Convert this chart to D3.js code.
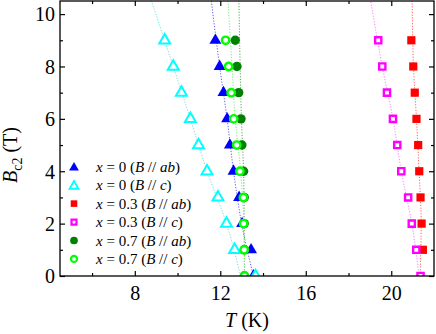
<!DOCTYPE html>
<html>
<head>
<meta charset="utf-8">
<script src="https://cdn.jsdelivr.net/npm/d3@7"></script>
<style>
    body { margin: 0; background: #fff; }
    svg text { font-family: 'Times New Roman', 'Liberation Serif', Times, serif; fill: #000; }
</style>
</head>
<body>
<div id="chart"></div>
<script>
// field levels (T) for the measured points
let bLevels = [9, 8, 7, 6, 5, 4, 3, 2, 1, 0];

// Tc (K) at each field
let x0ab = [11.77, 11.97, 12.15, 12.32, 12.45, 12.62, 12.88, 13.02, 13.44, 13.55];
let x0c = [9.40, 9.80, 10.18, 10.60, 10.98, 11.38, 11.89, 12.29, 12.67, 13.65];
let x03ab = [20.94, 21.03, 21.10, 21.18, 21.26, 21.31, 21.37, 21.42, 21.48];
let x03c = [19.39, 19.58, 19.80, 20.08, 20.28, 20.47, 20.79, 20.96, 21.17, 21.37];
let x07ab = [12.70, 12.78, 12.86, 12.97, 13.01, 13.09, 13.12, 13.12, 13.13, 13.13];
let x07c = [12.25, 12.39, 12.51, 12.63, 12.77, 12.92, 13.08, 13.09, 13.12, 13.13];

// dotted fit curves: T at these fields
let fitB = [0, 2, 4, 6, 8, 10.5];
let fit0ab = [13.55, 13.00, 12.62, 12.32, 11.97, 11.58];
let fit0c = [12.95, 12.29, 11.38, 10.60, 9.80, 8.78];
let fit03ab = [21.35, 21.40, 21.30, 21.18, 21.04, 20.98];
let fit03c = [21.30, 20.96, 20.47, 20.08, 19.58, 19.04];
let fit07ab = [13.13, 13.12, 13.09, 12.99, 12.93, 12.87];
let fit07c = [13.13, 13.10, 12.95, 12.70, 12.55, 12.36];

let legendLabels = ['0', '0', '0.3', '0.3', '0.7', '0.7'];
let legendDirs = ['ab', 'c', 'ab', 'c', 'ab', 'c'];

let xMajor = [8, 12, 16, 20];
let xMinor = [6, 10, 14, 18];
let yMajor = [0, 2, 4, 6, 8, 10];
let yMinor = [1, 3, 5, 7, 9];

let width = 436,
    height = 334;
let margin = {top: 1, right: 2, bottom: 58, left: 60};

let series = [
    {t: x0ab, fit: fit0ab, shape: 'tri', fill: true, color: '#0000ff', line: '#5a5aff'},
    {t: x0c, fit: fit0c, shape: 'tri', fill: false, color: '#00ffff', line: '#55e8e8'},
    {t: x03ab, fit: fit03ab, shape: 'sq', fill: true, color: '#ff0000', line: '#ff6060'},
    {t: x03c, fit: fit03c, shape: 'sq', fill: false, color: '#ff00ff', line: '#ff80ff'},
    {t: x07ab, fit: fit07ab, shape: 'circ', fill: true, color: '#008000', line: '#55aa55'},
    {t: x07c, fit: fit07c, shape: 'circ', fill: false, color: '#00ff00', line: '#77ee77'}
];

let svg = d3.select('#chart')
    .append('svg')
    .attr('width', width)
    .attr('height', height);

let x = d3.scaleLinear()
    .domain([4.5, 22])
    .range([margin.left, width - margin.right]);
let y = d3.scaleLinear()
    .domain([0, 10.5])
    .range([height - margin.bottom, margin.top]);

svg.append('clipPath')
    .attr('id', 'plot-clip')
    .append('rect')
    .attr('x', x.range()[0])
    .attr('y', y.range()[1])
    .attr('width', x.range()[1] - x.range()[0])
    .attr('height', y.range()[0] - y.range()[1]);

// marker path for a given shape (open markers are drawn a bit smaller, stroke adds the rest)
function markerPath(shape, fill, scale) {
    if (shape === 'tri') {
        return d3.symbol(d3.symbolTriangle, (fill ? 62 : 52) * scale * scale)();
    }
    if (shape === 'sq') {
        let h = (fill ? 4.1 : 3.1) * scale;
        return 'M' + (-h) + ',' + (-h) + 'H' + h + 'V' + h + 'H' + (-h) + 'Z';
    }
    let r = (fill ? 4.7 : 3.7) * scale;
    return d3.symbol(d3.symbolCircle, Math.PI * r * r)();
}

function styleMarker(sel, s) {
    if (s.fill) {
        sel.attr('fill', s.color).attr('stroke', 'none');
    } else {
        sel.attr('fill', '#fff').attr('stroke', s.color)
            .attr('stroke-width', s.shape === 'tri' ? 2 : 2.4);
    }
}

// fit lines
let plot = svg.append('g').attr('clip-path', 'url(#plot-clip)');
let line = d3.line()
    .x(d => x(d[0]))
    .y(d => y(d[1]))
    .curve(d3.curveMonotoneY);

series.forEach(function(s) {
    let pts = s.fit.map((t, i) => [t, fitB[i]]);
    plot.append('path')
        .attr('class', 'fit')
        .attr('d', line(pts))
        .attr('fill', 'none')
        .attr('stroke', s.line)
        .attr('stroke-width', 1)
        .attr('stroke-dasharray', '1.2,1.6');
});

// data points
series.forEach(function(s) {
    let pts = s.t.map((t, i) => [t, bLevels[i]]);
    let g = plot.append('g');
    let m = g.selectAll('path')
        .data(pts)
        .enter()
        .append('path')
        .attr('d', markerPath(s.shape, s.fill, 1))
        .attr('transform', d => 'translate(' + x(d[0]) + ',' + y(d[1]) + ')');
    styleMarker(m, s);
});

// axes with inward ticks on all four sides
let axG = svg.append('g');

function addAxis(axis, transform, size, values, labels) {
    let g = axG.append('g')
        .attr('transform', transform)
        .call(axis.tickValues(values).tickSize(-size).tickFormat(labels ? d3.format('d') : ''));
    g.attr('font-family', null);
    g.select('.domain').remove();
    g.selectAll('.tick line').attr('stroke', '#000').attr('stroke-width', 1.2);
    return g;
}

let yBottom = y.range()[0],
    yTop = y.range()[1],
    xLeft = x.range()[0],
    xRight = x.range()[1];

let xb = addAxis(d3.axisBottom(x), 'translate(0,' + yBottom + ')', 5, xMajor, true);
xb.selectAll('.tick text')
    .attr('y', 24)
    .attr('dy', null)
    .style('font-size', '20px');
addAxis(d3.axisBottom(x), 'translate(0,' + yBottom + ')', 3, xMinor, false);
addAxis(d3.axisTop(x), 'translate(0,' + yTop + ')', 5, xMajor, false);
addAxis(d3.axisTop(x), 'translate(0,' + yTop + ')', 3, xMinor, false);

let yl = addAxis(d3.axisLeft(y), 'translate(' + xLeft + ',0)', 5, yMajor, true);
yl.selectAll('.tick text')
    .attr('x', -5)
    .attr('dy', '0.34em')
    .style('font-size', '20px');
addAxis(d3.axisLeft(y), 'translate(' + xLeft + ',0)', 3, yMinor, false);
addAxis(d3.axisRight(y), 'translate(' + xRight + ',0)', 5, yMajor, false);
addAxis(d3.axisRight(y), 'translate(' + xRight + ',0)', 3, yMinor, false);

// frame
svg.append('rect')
    .attr('x', xLeft)
    .attr('y', yTop)
    .attr('width', xRight - xLeft)
    .attr('height', yBottom - yTop)
    .attr('fill', 'none')
    .attr('stroke', '#000')
    .attr('stroke-width', 1.3);

// axis titles
let xt = svg.append('text')
    .attr('x', (xLeft + xRight) / 2)
    .attr('y', 327)
    .attr('text-anchor', 'middle')
    .style('font-size', '20px');
xt.append('tspan').style('font-style', 'italic').text('T');
xt.append('tspan').text(' (K)');

let yt = svg.append('text')
    .attr('transform', 'translate(17,155) rotate(-90)')
    .attr('text-anchor', 'middle')
    .style('font-size', '20px');
yt.append('tspan').style('font-style', 'italic').text('B');
yt.append('tspan').attr('dy', 5).style('font-size', '14px').text('c2');
yt.append('tspan').attr('dy', -5).text(' (T)');

// legend
let legend = svg.append('g');
series.forEach(function(s, i) {
    let ly = 166.7 + i * 18.45;
    let m = legend.append('path')
        .attr('d', markerPath(s.shape, s.fill, s.shape === 'sq' ? 0.8 : 0.82))
        .attr('transform', 'translate(74,' + (ly + (s.shape === 'tri' ? 1 : 0)) + ')');
    styleMarker(m, s);
    if (!s.fill) {
        m.attr('stroke-width', s.shape === 'tri' ? 1.8 : 2.2);
    }
    let t = legend.append('text')
        .attr('x', 96)
        .attr('y', ly + 5)
        .style('font-size', '15px');
    t.append('tspan').style('font-style', 'italic').text('x');
    t.append('tspan').text(' = ' + legendLabels[i] + ' (');
    t.append('tspan').style('font-style', 'italic').text('B');
    t.append('tspan').text(' // ');
    t.append('tspan').style('font-style', 'italic').text(legendDirs[i]);
    t.append('tspan').text(')');
});
</script>
</body>
</html>
